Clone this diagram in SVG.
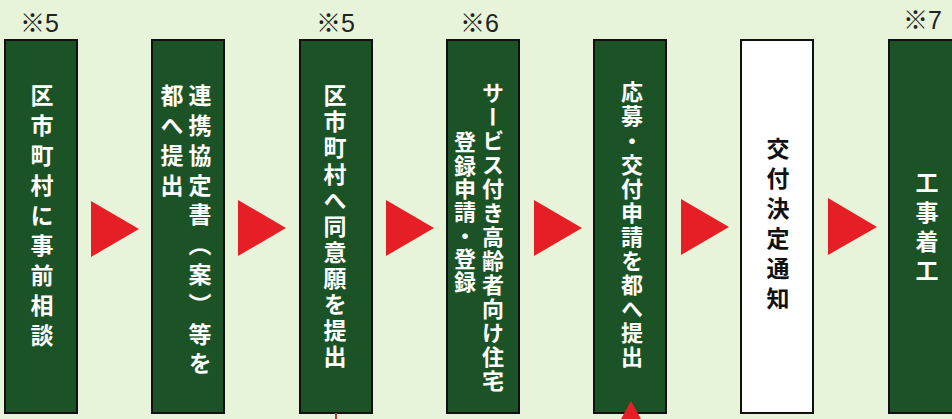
<svg xmlns="http://www.w3.org/2000/svg" width="952" height="419" viewBox="0 0 952 419">
<defs>
<style>
.bg{fill:#e7f4da}
.box{fill:#1b5326;stroke:#111;stroke-width:2}
.wbox{fill:#ffffff;stroke:#111;stroke-width:2}
.vt{font-family:"Noto Sans CJK JP","Noto Sans",sans-serif;font-weight:bold;font-size:23px;fill:#ffffff;writing-mode:vertical-rl;text-orientation:upright}
.dark{fill:#111}
.note{font-family:"Liberation Sans","Noto Sans CJK JP",sans-serif;font-size:25px;fill:#222}
.tri{fill:#e61f26}
</style>
</defs>
<rect class="bg" x="0" y="0" width="952" height="419"/>
<g id="notes">
<text class="note" x="20" y="32">※5</text>
<text class="note" x="316" y="32">※5</text>
<text class="note" x="460" y="32">※6</text>
<text class="note" x="903" y="29">※7</text>
</g>
<g id="node1">
<rect class="box" x="5" y="40" width="72" height="373"/>
<text class="vt" x="42" y="84" style="letter-spacing:7px">区市町村に事前相談</text>
</g>
<g id="node2">
<rect class="box" x="152" y="40" width="72" height="373"/>
<text class="vt" x="200" y="84" style="letter-spacing:6.8px">連携協定書（案）等を</text>
<text class="vt" x="172" y="84" style="letter-spacing:7px">都へ提出</text>
</g>
<g id="node3">
<rect class="box" x="300" y="40" width="72" height="373"/>
<text class="vt" x="335" y="84" style="letter-spacing:3.1px">区市町村へ同意願を提出</text>
</g>
<g id="node4">
<rect class="box" x="447" y="40" width="72" height="373"/>
<text class="vt" x="493" y="82" style="font-size:22px;letter-spacing:2px">サービス付き高齢者向け住宅</text>
<text class="vt" x="465" y="131" style="font-size:22px;letter-spacing:1.3px">登録申請・登録</text>
</g>
<g id="node5">
<rect class="box" x="594" y="40" width="72" height="373"/>
<text class="vt" x="632" y="81" style="font-size:22px;letter-spacing:2.1px">応募・交付申請を都へ提出</text>
</g>
<g id="node6">
<rect class="wbox" x="741" y="40" width="72" height="373"/>
<text class="vt dark" x="778" y="137" style="letter-spacing:7px">交付決定通知</text>
</g>
<g id="node7">
<rect class="box" x="889" y="40" width="72" height="373"/>
<text class="vt" x="927" y="171" style="letter-spacing:6.3px">工事着工</text>
</g>
<g id="connectors">
<polygon class="tri" points="91,201 139,229 91,257"/>
<polygon class="tri" points="238,200 286,228 238,256"/>
<polygon class="tri" points="386,200 434,228 386,256"/>
<polygon class="tri" points="534,200 582,228 534,256"/>
<polygon class="tri" points="681,199 729,227 681,255"/>
<polygon class="tri" points="828,198 877,227 828,255"/>
<line x1="336" y1="413" x2="336" y2="419" stroke="#c0392b" stroke-width="2"/>
<polygon class="tri" points="631,401 621,419 641,419"/>
</g>
</svg>
